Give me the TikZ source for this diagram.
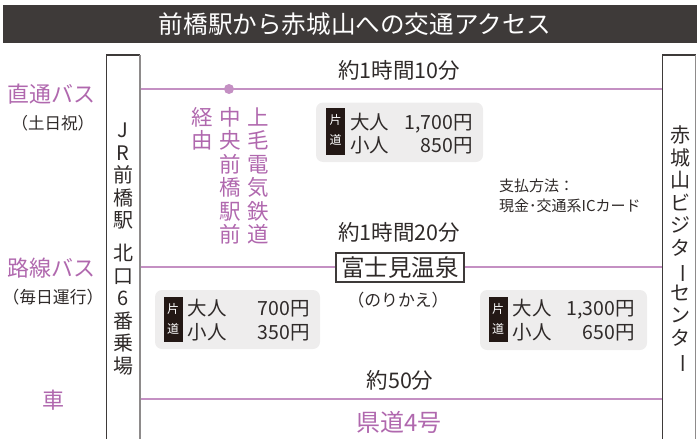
\documentclass[tikz,border=0pt]{standalone}
\usepackage{fontspec}
\setmainfont{Noto Sans CJK JP}
\usepackage{graphicx}
\definecolor{dk}{HTML}{3E3A39}
\definecolor{txt}{HTML}{2F2A29}
\definecolor{pl}{HTML}{C490C3}
\definecolor{pt}{HTML}{B068AE}
\definecolor{bxg}{HTML}{EEEDED}
\definecolor{gline}{HTML}{8E8B8B}
\definecolor{tagc}{HTML}{231815}
\newcommand\fsz[1]{\fontsize{#1}{#1}\selectfont}
\tikzset{
  lbl/.style={inner sep=0, anchor=base, text=txt},
  plbl/.style={inner sep=0, anchor=base, text=pt},
  route/.style={draw=pl, line width=2.4pt},
  pricebg/.style={fill=bxg, rounded corners=7pt},
  tagbg/.style={fill=tagc},
  tagtxt/.style={inner sep=0, anchor=base, text=white, font=\fsz{12}},
  price/.style={inner sep=0, text=txt, font=\fsz{19.5}},
}
% name, x, y0 (centre of first char), pitch, font size, colour, list
\newcommand\vcol[7]{%
  \foreach \c [count=\i from 0] in {#7}{%
    \node[inner sep=0, anchor=base, text=#6, font=\fsz{#5}] (#1\i) at ({#2}, {#3+\i*#4+0.38*#5}) {\c};}}
\begin{document}
\begin{tikzpicture}[x=1pt,y=-1pt]
\useasboundingbox (0,0) rectangle (699,439);
% title
\fill[dk] (3,5) rectangle (697,43);
\node[lbl, text=white, font=\fsz{24.6}] (title) at (355,33.3) {前橋駅から赤城山への交通アクセス};
% station boxes
\draw[dk, line width=1.3pt] (106.7,441) -- (106.7,55) -- (140,55);
\draw[gline, line width=1.4pt] (140,55) -- (140,441);
\draw[dk, line width=1.3pt] (662.7,441) -- (662.7,55) -- (695.7,55);
\draw[gline, line width=1.4pt] (695.7,55) -- (695.7,441);
\coordinate (L1) at (140.7,89); \coordinate (R1) at (662,89);
\coordinate (L2) at (140.7,267); \coordinate (R2) at (662,267);
\coordinate (L3) at (140.7,399); \coordinate (R3) at (662,399);
\draw[route] (L1) -- (R1);
\draw[route] (L2) -- (R2);
\draw[route] (L3) -- (R3);
\fill[pl] (229,89) circle (5);
% left labels
\node[plbl, font=\fsz{22}] (l1) at (52,102.5) {直通バス};
\node[lbl, font=\fsz{16.5}] (l1b) at (53,129.3) {（土日祝）};
\node[plbl, font=\fsz{22}] (l2) at (52,276.5) {路線バス};
\node[lbl, font=\fsz{16.8}] (l2b) at (53,303.4) {（毎日運行）};
\node[plbl, font=\fsz{22}] (l3) at (53,408.4) {車};
% vertical texts
\vcol{jr}{123}{130}{22.5}{20}{txt}{J,R,前,橋,駅}
\vcol{kt}{123}{253}{22.5}{20}{txt}{北,口,6,番,乗,場}
\vcol{jm}{258}{117}{23.5}{21.5}{pt}{上,毛,電,気,鉄,道}
\vcol{cm}{230}{117}{23.5}{21.5}{pt}{中,央,前,橋,駅,前}
\vcol{kv}{202}{117}{23.5}{21.5}{pt}{経,由}
\vcol{av}{680}{135}{22.5}{20}{txt}{赤,城,山,ビ,ジ,タ,{\rotatebox[origin=c]{-90}{ー}},セ,ン,タ,{\rotatebox[origin=c]{-90}{ー}}}
% times
\node[lbl, font=\fsz{21.5}] (t1) at (399,78) {約1時間10分};
\node[lbl, font=\fsz{21.5}] (t2) at (399,240) {約1時間20分};
\node[lbl, font=\fsz{21.5}] (t3) at (400,388.5) {約50分};
\node[plbl, font=\fsz{24}] (road) at (399,431) {県道4号};
% transfer
\node[draw=dk, fill=white, line width=1.1pt, minimum width=128pt, minimum height=29pt, inner sep=0, font=\fsz{23.5}, text=txt] (fuji) at (400,267.5) {富士見温泉};
\node[lbl, font=\fsz{16.8}] (norikae) at (398,306.3) {（のりかえ）};
% payment
\node[lbl, anchor=base west, font=\fsz{15}] (pay1) at (499,191.5) {支払方法：};
\node[lbl, anchor=base west, font=\fsz{15}] (pay2) at (499,211.5) {現金･交通系ICカード};
% price box 1
\fill[pricebg] (316,102.5) rectangle (483,162);
\fill[tagbg] (326,108) rectangle (345,155);
\node[tagtxt] (p1a) at (335.5,124.6) {片};
\node[tagtxt] (p1b) at (335.5,144.6) {道};
\node[price, anchor=base west] (p1c) at (350,129.4) {大人};
\node[price, anchor=base east] (p1d) at (473,129.4) {1,700円};
\node[price, anchor=base west] (p1e) at (350,152.4) {小人};
\node[price, anchor=base east] (p1f) at (473,152.4) {850円};
% price box 2
\fill[pricebg] (155,290) rectangle (320,349);
\fill[tagbg] (163.5,297) rectangle (183,342);
\node[tagtxt] (p2a) at (173.2,313.6) {片};
\node[tagtxt] (p2b) at (173.2,333.6) {道};
\node[price, anchor=base west] (p2c) at (187.5,315.4) {大人};
\node[price, anchor=base east] (p2d) at (310,315.4) {700円};
\node[price, anchor=base west] (p2e) at (187.5,339.4) {小人};
\node[price, anchor=base east] (p2f) at (310,339.4) {350円};
% price box 3
\fill[pricebg] (480,290) rectangle (647,350);
\fill[tagbg] (489,297) rectangle (507.5,342);
\node[tagtxt] (p3a) at (498.2,313.6) {片};
\node[tagtxt] (p3b) at (498.2,333.6) {道};
\node[price, anchor=base west] (p3c) at (512.5,315.4) {大人};
\node[price, anchor=base east] (p3d) at (635,315.4) {1,300円};
\node[price, anchor=base west] (p3e) at (512.5,339.4) {小人};
\node[price, anchor=base east] (p3f) at (635,339.4) {650円};
\end{tikzpicture}
\end{document}
